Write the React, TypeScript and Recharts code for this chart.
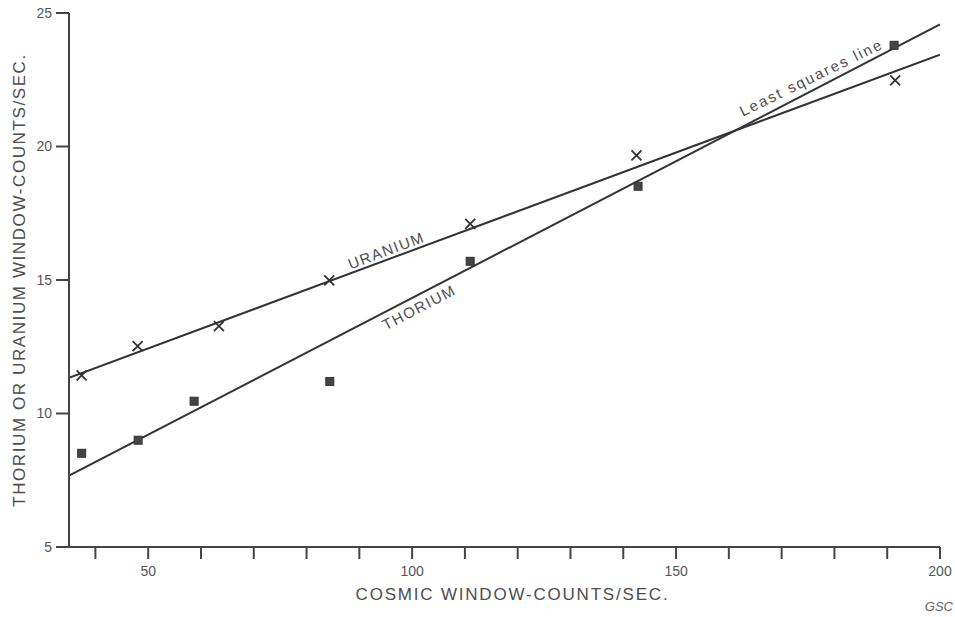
import { ComposedChart, Line, Scatter, XAxis, YAxis, ReferenceDot } from "recharts";

const FONT = '"Liberation Sans", Arial, Helvetica, sans-serif';
const INK = "#333";
const TEXT = "#4d4d4d";

// count rates, counts/sec
const uraniumX = [37.4, 48.0, 63.4, 84.3, 111.0, 142.5, 191.5];
const uraniumY = [11.43, 12.52, 13.27, 14.99, 17.1, 19.67, 22.48];
const thoriumX = [37.4, 48.1, 58.7, 84.4, 111.0, 142.8, 191.3];
const thoriumY = [8.51, 9.0, 10.46, 11.2, 15.7, 18.51, 23.79];

// least squares lines, given at both ends of the cosmic axis
const fitX = [35, 200];
const uraniumFit = [11.34, 23.44];
const thoriumFit = [7.67, 24.57];

const xTicks = [40, 50, 60, 70, 80, 90, 100, 110, 120, 130, 140, 150, 160, 170, 180, 190, 200];
const yTicks = [5, 10, 15, 20, 25];

// text written along the lines
const noteText = ["URANIUM", "THORIUM", "Least squares line"];
const noteX = [95.1, 101.3, 175.6];
const noteY = [16.11, 13.98, 22.59];
const noteAngle = [-20.4, -27.4, -26];

const uranium = uraniumX.map((x, i) => ({ x, y: uraniumY[i] }));
const thorium = thoriumX.map((x, i) => ({ x, y: thoriumY[i] }));
const uraniumLine = fitX.map((x, i) => ({ x, y: uraniumFit[i] }));
const thoriumLine = fitX.map((x, i) => ({ x, y: thoriumFit[i] }));

const Cross = ({ cx, cy }: any) => {
  const s = 5;
  return (
    <path
      d={`M${cx - s},${cy - s}L${cx + s},${cy + s}M${cx + s},${cy - s}L${cx - s},${cy + s}`}
      stroke={INK}
      strokeWidth={1.8}
      fill="none"
    />
  );
};

const Box = ({ cx, cy }: any) => (
  <rect x={cx - 4} y={cy - 4} width={8} height={8} fill="#444" stroke={INK} strokeWidth={1} />
);

// only every fifth tick carries a number
const XTick = ({ x, y, payload }: any) =>
  payload.value % 50 === 0 ? (
    <text x={x} y={y} dy="0.71em" textAnchor="middle" fill="#555" fontSize={14} fontFamily={FONT}>
      {payload.value}
    </text>
  ) : (
    <g />
  );

const XTitle = ({ viewBox }: any) => {
  const { x, y, width } = viewBox;
  return (
    <g fontFamily={FONT}>
      <text x={x + width / 2 + 8} y={y + 53} textAnchor="middle" fill={TEXT} fontSize={17} letterSpacing={1.8}>
        COSMIC WINDOW-COUNTS/SEC.
      </text>
      <text x={x + width + 13} y={y + 64} textAnchor="end" fill="#666" fontSize={13} fontStyle="italic">
        GSC
      </text>
    </g>
  );
};

const YTitle = ({ viewBox }: any) => {
  const cx = viewBox.x + 10;
  const cy = viewBox.y + viewBox.height / 2;
  return (
    <text
      x={cx}
      y={cy}
      dy="0.36em"
      transform={`rotate(-90, ${cx}, ${cy})`}
      textAnchor="middle"
      fill={TEXT}
      fontSize={17}
      letterSpacing={1.6}
      fontFamily={FONT}
    >
      THORIUM OR URANIUM WINDOW-COUNTS/SEC.
    </text>
  );
};

const note = (i: number) => ({ cx, cy }: any) => (
  <text
    x={cx}
    y={cy}
    dy="0.36em"
    transform={`rotate(${noteAngle[i]}, ${cx}, ${cy})`}
    textAnchor="middle"
    fill={TEXT}
    fontSize={15}
    letterSpacing={i === 2 ? 2 : 1.5}
    fontFamily={FONT}
  >
    {noteText[i]}
  </text>
);

export default function App() {
  // pinned to the page corner so the body margin and scrollbars stay out of the way
  return (
    <div style={{ position: "fixed", left: 0, top: 0, width: 955, height: 617, background: "#fff" }}>
      <ComposedChart width={955} height={617} margin={{ top: 13, right: 15, bottom: 30, left: 9 }}>
        <XAxis
          type="number"
          dataKey="x"
          domain={[35, 200]}
          ticks={xTicks}
          interval={0}
          allowDataOverflow
          height={40}
          tickSize={12}
          tickMargin={7}
          axisLine={{ stroke: "#444", strokeWidth: 2 }}
          tickLine={{ stroke: "#444", strokeWidth: 2 }}
          tick={(p: any) => <XTick {...p} />}
          label={(p: any) => <XTitle {...p} />}
        />
        <YAxis
          type="number"
          domain={[5, 25]}
          ticks={yTicks}
          interval={0}
          allowDataOverflow
          width={60}
          tickSize={13}
          tickMargin={4}
          axisLine={{ stroke: "#444", strokeWidth: 2 }}
          tickLine={{ stroke: "#444", strokeWidth: 2 }}
          tick={{ fill: "#555", fontSize: 14, fontFamily: FONT }}
          label={(p: any) => <YTitle {...p} />}
        />

        <Line data={uraniumLine} dataKey="y" stroke={INK} strokeWidth={2} dot={false} isAnimationActive={false} />
        <Line data={thoriumLine} dataKey="y" stroke={INK} strokeWidth={2} dot={false} isAnimationActive={false} />

        <Scatter data={uranium} dataKey="y" shape={Cross} isAnimationActive={false} />
        <Scatter data={thorium} dataKey="y" shape={Box} isAnimationActive={false} />

        {noteText.map((t, i) => (
          <ReferenceDot key={t} x={noteX[i]} y={noteY[i]} r={0} shape={note(i)} />
        ))}
      </ComposedChart>
    </div>
  );
}
